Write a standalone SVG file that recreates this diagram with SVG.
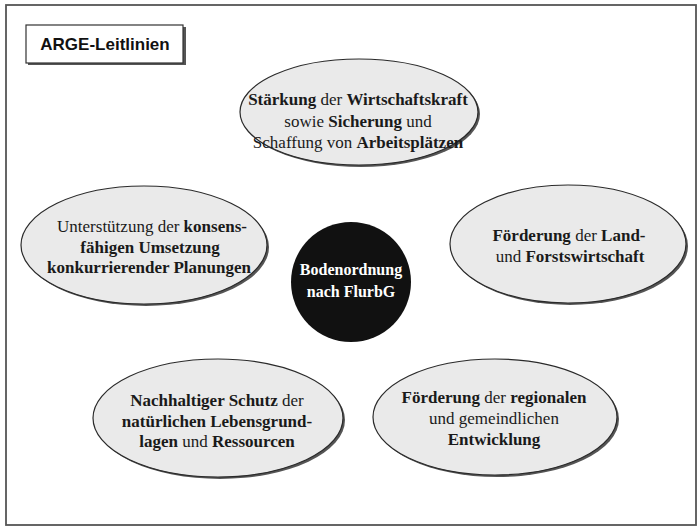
<svg xmlns="http://www.w3.org/2000/svg" width="698" height="528" viewBox="0 0 698 528">
<style>
.frame{fill:#fff;stroke:#555;stroke-width:1.8}
.shadow{fill:#555}
.ell{fill:#eaeaea;stroke:#2a2a2a;stroke-width:1.2}
.t{font-family:"Liberation Serif","Times New Roman",serif;font-size:17px;fill:#1a1a1a;text-anchor:middle}
.b{font-weight:bold}
.w{fill:#fff;font-weight:bold;font-size:16px}
.title{font-family:"Liberation Sans",Arial,sans-serif;font-size:17px;font-weight:bold;fill:#111;text-anchor:middle}
</style>
<rect x="0" y="0" width="698" height="528" fill="#fff"/>
<rect class="frame" x="6" y="5" width="690" height="520"/>
<g id="title">
<rect class="shadow" x="28" y="27" width="158" height="38"/>
<rect x="26" y="25" width="157" height="38" fill="#fff" stroke="#333" stroke-width="1.2"/>
<text class="title" x="105" y="50">ARGE-Leitlinien</text>
</g>
<g id="connectors"></g>
<g id="n-top">
<ellipse class="shadow" cx="361" cy="114" rx="119" ry="53"/>
<ellipse class="ell" cx="359" cy="112" rx="119" ry="53"/>
<text class="t" x="358" y="105"><tspan class="b">Stärkung</tspan> der <tspan class="b">Wirtschaftskraft</tspan></text>
<text class="t" x="358" y="127">sowie <tspan class="b">Sicherung</tspan> und</text>
<text class="t" x="358" y="148">Schaffung von <tspan class="b">Arbeitsplätzen</tspan></text>
</g>
<g id="n-left">
<ellipse class="shadow" cx="146" cy="247" rx="123" ry="59"/>
<ellipse class="ell" cx="144" cy="245" rx="123" ry="59"/>
<text class="t" x="152" y="232">Unterstützung der <tspan class="b">konsens-</tspan></text>
<text class="t b" x="150" y="253">fähigen Umsetzung</text>
<text class="t b" x="149" y="273">konkurrierender Planungen</text>
</g>
<g id="n-right">
<ellipse class="shadow" cx="570" cy="246" rx="118" ry="59"/>
<ellipse class="ell" cx="568" cy="244" rx="118" ry="59"/>
<text class="t" x="569" y="241"><tspan class="b">Förderung</tspan> der <tspan class="b">Land-</tspan></text>
<text class="t" x="570" y="262">und <tspan class="b">Forstswirtschaft</tspan></text>
</g>
<g id="n-center">
<circle cx="351" cy="282" r="60" fill="#111"/>
<text class="t w" x="351" y="275">Bodenordnung</text>
<text class="t w" x="351" y="297">nach FlurbG</text>
</g>
<g id="n-bottom-left">
<ellipse class="shadow" cx="220" cy="420" rx="125" ry="59"/>
<ellipse class="ell" cx="218" cy="418" rx="125" ry="59"/>
<text class="t" x="217" y="406"><tspan class="b">Nachhaltiger Schutz</tspan> der</text>
<text class="t b" x="217" y="427">natürlichen Lebensgrund-</text>
<text class="t" x="217" y="447"><tspan class="b">lagen</tspan> und <tspan class="b">Ressourcen</tspan></text>
</g>
<g id="n-bottom-right">
<ellipse class="shadow" cx="497" cy="419" rx="122" ry="58"/>
<ellipse class="ell" cx="495" cy="417" rx="122" ry="58"/>
<text class="t" x="494" y="403"><tspan class="b">Förderung</tspan> der <tspan class="b">regionalen</tspan></text>
<text class="t" x="494" y="424">und gemeindlichen</text>
<text class="t b" x="494" y="445">Entwicklung</text>
</g>
</svg>
